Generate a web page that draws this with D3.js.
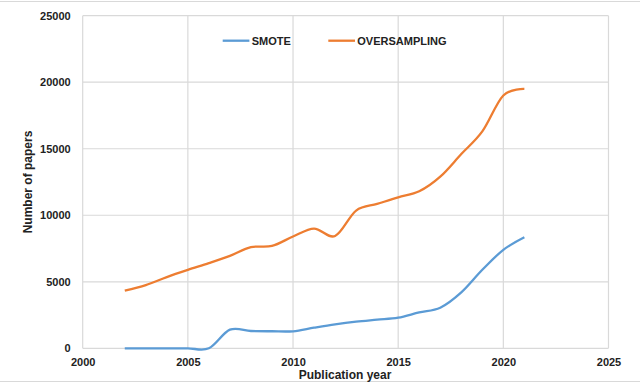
<!DOCTYPE html>
<meta charset="utf-8">
<script src="https://d3js.org/d3.v7.min.js"></script>
<style>
  body { margin: 0; background: #fff; }
  text { font-family: "Liberation Sans", Arial, sans-serif; font-weight: bold; fill: #222; }
</style>
<div id="chart"></div>
<script>
  // data
  var years = [2002, 2003, 2004, 2005, 2006, 2007, 2008, 2009, 2010, 2011,
               2012, 2013, 2014, 2015, 2016, 2017, 2018, 2019, 2020, 2021];
  var smote = [0, 0, 0, 0, 0, 1400, 1300, 1280, 1280, 1550,
               1800, 2000, 2150, 2300, 2700, 3050, 4200, 5900, 7400, 8350];
  var oversampling = [4330, 4750, 5350, 5890, 6400, 6950, 7600, 7700, 8400, 9000,
                      8440, 10350, 10850, 11350, 11800, 12900, 14600, 16300, 19000, 19500];
  var xTicks = [2000, 2005, 2010, 2015, 2020, 2025];
  var yTicks = [0, 5000, 10000, 15000, 20000, 25000];
  var seriesNames = ["SMOTE", "OVERSAMPLING"];
  var colors = ["#5b9bd5", "#ed7d31"];

  var W = 640, H = 384;
  var margin = { top: 15.7, right: 31.5, bottom: 35.7, left: 82.7 },
    width = W - margin.left - margin.right,
    height = H - margin.top - margin.bottom;

  var root = d3.select("#chart").append("svg")
    .attr("width", W)
    .attr("height", H);

  // frame lines at top and bottom
  [1.5, 381.5].forEach(function (yy) {
    root.append("line")
      .attr("x1", 0).attr("x2", W)
      .attr("y1", yy).attr("y2", yy)
      .attr("stroke", "#d9d9d9");
  });

  var svg = root.append("g")
    .attr("transform", "translate(" + margin.left + "," + margin.top + ")");

  var x = d3.scaleLinear().domain([2000, 2025]).range([0, width]);
  var y = d3.scaleLinear().domain([0, 25000]).range([height, 0]);

  // gridlines
  svg.append("g").selectAll("line").data(yTicks).enter().append("line")
    .attr("x1", 0).attr("x2", width)
    .attr("y1", function (d) { return y(d); })
    .attr("y2", function (d) { return y(d); })
    .attr("stroke", "#d9d9d9").attr("stroke-width", 1.2);
  svg.append("g").selectAll("line").data(xTicks).enter().append("line")
    .attr("y1", 0).attr("y2", height)
    .attr("x1", function (d) { return x(d); })
    .attr("x2", function (d) { return x(d); })
    .attr("stroke", "#d9d9d9").attr("stroke-width", 1.2);

  // axes (labels only)
  var xAxis = d3.axisBottom(x).tickValues(xTicks).tickSize(0).tickPadding(10).tickFormat(d3.format("d"));
  var yAxis = d3.axisLeft(y).tickValues(yTicks).tickSize(0).tickPadding(12).tickFormat(d3.format("d"));
  var gX = svg.append("g").attr("transform", "translate(0," + height + ")").call(xAxis);
  var gY = svg.append("g").call(yAxis);
  [gX, gY].forEach(function (g) {
    g.select(".domain").remove();
    g.selectAll("text")
      .style("font-family", "'Liberation Sans', Arial, sans-serif")
      .style("font-weight", "bold")
      .style("font-size", "11px")
      .attr("fill", "#222");
  });

  // lines
  var line = d3.line()
    .x(function (d) { return x(d[0]); })
    .y(function (d) { return y(d[1]); })
    .curve(d3.curveCatmullRom.alpha(0));

  [smote, oversampling].forEach(function (vals, i) {
    svg.append("path")
      .datum(years.map(function (yr, j) { return [yr, vals[j]]; }))
      .attr("fill", "none")
      .attr("stroke", colors[i])
      .attr("stroke-width", 2.3)
      .attr("d", line);
  });

  // legend
  var legendX = [222.7, 328.3];
  seriesNames.forEach(function (name, i) {
    var g = root.append("g").attr("transform", "translate(" + legendX[i] + ",40.7)");
    g.append("line").attr("x1", 0).attr("x2", 26.7)
      .attr("stroke", colors[i]).attr("stroke-width", 2.3);
    g.append("text").attr("x", 29).attr("dy", "0.35em")
      .style("font-size", "11px").text(name);
  });

  // axis titles
  root.append("text")
    .attr("transform", "translate(32," + (margin.top + height / 2) + ") rotate(-90)")
    .attr("text-anchor", "middle")
    .style("font-size", "12px")
    .text("Number of papers");
  root.append("text")
    .attr("x", 345).attr("y", 379)
    .attr("text-anchor", "middle")
    .style("font-size", "12px")
    .text("Publication year");
</script>
